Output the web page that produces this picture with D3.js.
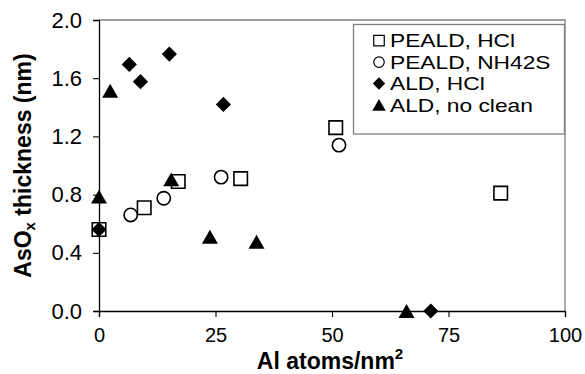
<!DOCTYPE html>
<html>
<head>
<meta charset="utf-8">
<script src="https://cdn.jsdelivr.net/npm/d3@7"></script>
<style>
  html, body { margin: 0; padding: 0; background: #fff; }
  svg { display: block; font-family: "Liberation Sans", Arial, sans-serif; }
</style>
</head>
<body>
<svg id="chart" width="585" height="374"></svg>
<script>
// Al coverage (atoms/nm^2) vs. AsOx thickness (nm) for each process
const pealdHclX = [0, 9.7, 17.0, 30.4, 50.8, 86.2];
const pealdHclY = [0.56, 0.71, 0.89, 0.91, 1.26, 0.81];

const pealdNh4X = [6.8, 13.9, 26.2, 51.5];
const pealdNh4Y = [0.66, 0.775, 0.92, 1.14];

const aldHclX = [0, 6.5, 8.9, 15.1, 26.7, 71.2];
const aldHclY = [0.56, 1.695, 1.576, 1.766, 1.42, 0];

const aldNoCleanX = [0, 2.4, 15.5, 23.8, 33.8, 66.0];
const aldNoCleanY = [0.786, 1.514, 0.905, 0.51, 0.476, 0];

const seriesNames = ["PEALD, HCl", "PEALD, NH42S", "ALD, HCl", "ALD, no clean"];
const xTicks = [0, 25, 50, 75, 100];
const yTicks = [0.0, 0.4, 0.8, 1.2, 1.6, 2.0];

const W = 585, H = 374;
const margin = { left: 99, right: 20, top: 20, bottom: 63 };
const plotW = W - margin.left - margin.right;
const plotH = H - margin.top - margin.bottom;

const svg = d3.select("#chart");

const x = d3.scaleLinear().domain([0, 100]).range([margin.left, margin.left + plotW]);
const y = d3.scaleLinear().domain([0, 2.0]).range([margin.top + plotH, margin.top]);

// Plot frame: grey top and right edges
svg.append("path")
  .attr("d", `M${x(0)},${y(2)}H${x(100)}V${y(0)}`)
  .attr("fill", "none").attr("stroke", "#808080").attr("stroke-width", 1.3);

// Axes
const xAxis = d3.axisBottom(x).tickValues(xTicks).tickSize(6).tickPadding(11)
  .tickFormat(d3.format("d"));
const yAxis = d3.axisLeft(y).tickValues(yTicks).tickSize(6).tickPadding(11)
  .tickFormat(d3.format(".1f"));

const gx = svg.append("g").attr("transform", `translate(0,${y(0)})`).call(xAxis);
const gy = svg.append("g").attr("transform", `translate(${x(0)},0)`).call(yAxis);
[gx, gy].forEach(g => {
  g.select(".domain").attr("stroke", "#000").attr("stroke-width", 1.3);
  g.selectAll(".tick line").attr("stroke", "#000").attr("stroke-width", 1.1);
  g.selectAll(".tick text").attr("fill", "#000")
    .style("font-family", "'Liberation Sans', Arial, sans-serif");
});
gx.selectAll(".tick text").style("font-size", "20px");
gy.selectAll(".tick text").style("font-size", "22px");

// Axis titles
const xt = svg.append("text")
  .attr("x", (x(0) + x(100)) / 2 - 2).attr("y", 369)
  .attr("text-anchor", "middle")
  .style("font-size", "23px").style("font-weight", "bold");
xt.append("tspan").text("Al atoms/nm");
xt.append("tspan").text("2").attr("dy", -10).style("font-size", "15px");

const yt = svg.append("text")
  .attr("transform", `translate(31,${(y(0) + y(2)) / 2}) rotate(-90)`)
  .attr("text-anchor", "middle")
  .style("font-size", "23px").style("font-weight", "bold");
yt.append("tspan").text("AsO");
yt.append("tspan").text("x").attr("dy", 4).style("font-size", "15px");
yt.append("tspan").text(" thickness (nm)").attr("dy", -4);

// Marker shapes, each centred on its bounding box
const diamond = {
  draw(ctx, size) {
    const r = size;
    ctx.moveTo(0, -r); ctx.lineTo(r, 0); ctx.lineTo(0, r); ctx.lineTo(-r, 0); ctx.closePath();
  }
};
const triangle = {
  draw(ctx, size) {
    const h = size * Math.sqrt(3) / 2;
    ctx.moveTo(0, -h / 2); ctx.lineTo(size / 2, h / 2); ctx.lineTo(-size / 2, h / 2); ctx.closePath();
  }
};
const square = {
  draw(ctx, size) {
    const s = size / 2;
    ctx.moveTo(-s, -s); ctx.lineTo(s, -s); ctx.lineTo(s, s); ctx.lineTo(-s, s); ctx.closePath();
  }
};
const circle = {
  draw(ctx, size) {
    const r = size / 2;
    ctx.moveTo(r, 0); ctx.arc(0, 0, r, 0, 2 * Math.PI);
  }
};

const series = [
  { xs: pealdHclX, ys: pealdHclY, type: square, size: 13.5, legSize: 10.5, filled: false },
  { xs: pealdNh4X, ys: pealdNh4Y, type: circle, size: 13.3, legSize: 10.5, filled: false },
  { xs: aldHclX, ys: aldHclY, type: diamond, size: 7.6, legSize: 6.2, filled: true },
  { xs: aldNoCleanX, ys: aldNoCleanY, type: triangle, size: 16, legSize: 13.5, filled: true }
];

series.forEach(s => {
  const pts = s.xs.map((v, i) => [v, s.ys[i]]);
  svg.append("g").selectAll("path")
    .data(pts).join("path")
    .attr("transform", d => `translate(${x(d[0])},${y(d[1])})`)
    .attr("d", d3.symbol().type(s.type).size(s.size))
    .attr("fill", s.filled ? "#000" : "#fff")
    .attr("stroke", "#000")
    .attr("stroke-width", s.filled ? 0 : 1.6);
});

// Legend
const leg = svg.append("g");
leg.append("rect")
  .attr("x", 353.5).attr("y", 24.5).attr("width", 211).attr("height", 109.5)
  .attr("fill", "#fff").attr("stroke", "#808080").attr("stroke-width", 1.3);

seriesNames.forEach((name, i) => {
  const cy = 40.7 + i * 21.4;
  const s = series[i];
  leg.append("path")
    .attr("transform", `translate(379,${cy})`)
    .attr("d", d3.symbol().type(s.type).size(s.legSize))
    .attr("fill", s.filled ? "#000" : "#fff")
    .attr("stroke", "#000")
    .attr("stroke-width", s.filled ? 0 : 1.2);
  // legend labels use a slightly widened face
  leg.append("text")
    .attr("transform", `translate(390,${cy + 6.6}) scale(1.23,1)`)
    .style("font-size", "18.5px")
    .text(name);
});
</script>
</body>
</html>
